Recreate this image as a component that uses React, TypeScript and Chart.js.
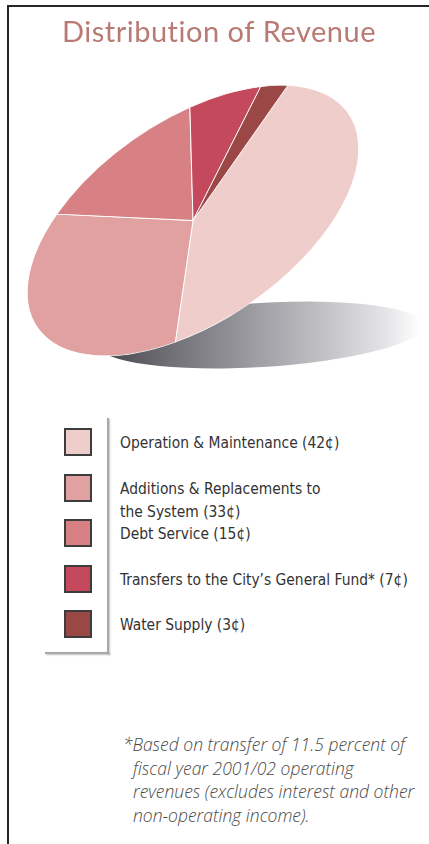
import React, { useEffect, useRef } from "react";
import { Chart, registerables } from "chart.js";

Chart.register(...registerables);

const TITLE = "Distribution of Revenue";
const CATEGORIES = [
  "Operation & Maintenance",
  "Additions & Replacements to\nthe System",
  "Debt Service",
  "Transfers to the City\u2019s General Fund*",
  "Water Supply",
];
const VALUES = [42, 33, 15, 7, 3];
const COLORS = ["#efcdcb", "#e0a1a0", "#d78184", "#c5495c", "#9b4746"];
const FOOTNOTE_LINES = [
  "*Based on transfer of 11.5 percent of",
  "fiscal year 2001/02 operating",
  "revenues (excludes interest and other",
  "non-operating income).",
];

// ellipse geometry (layout)
const PIE_CX = 193;
const PIE_CY = 220.5;
const PIE_A = 189;
const PIE_B = 100.5;
const PIE_TILT = 34.5;

const ellipsePlugin = {
  id: "ellipsePie",
  beforeDraw(chart: any) {
    (chart.ctx as any).letterSpacing = "0.5px";
  },
  beforeDatasetsDraw(chart: any) {
    const ctx = chart.ctx as CanvasRenderingContext2D;
    (ctx as any).letterSpacing = "0px";
    const arc = chart.getDatasetMeta(0).data[0] as any;
    if (!arc) return;
    // shadow
    ctx.save();
    const g = ctx.createLinearGradient(95, 0, 420, 0);
    g.addColorStop(0, "#45454b");
    g.addColorStop(0.3, "#7c7c82");
    g.addColorStop(0.65, "#b8b8bd");
    g.addColorStop(0.9, "#e6e6e8");
    g.addColorStop(1, "#ffffff");
    ctx.fillStyle = g;
    ctx.beginPath();
    ctx.ellipse(261, 335, 163, 32, (-3.5 * Math.PI) / 180, 0, Math.PI * 2);
    ctx.fill();
    ctx.restore();

    const { x, y, outerRadius } = arc;
    ctx.save();
    ctx.translate(PIE_CX, PIE_CY);
    ctx.rotate((-PIE_TILT * Math.PI) / 180);
    ctx.scale(PIE_A / outerRadius, PIE_B / outerRadius);
    ctx.translate(-x, -y);
  },
  afterDatasetsDraw(chart: any) {
    chart.ctx.restore();
  },
};

export default function App() {
  const ref = useRef<HTMLCanvasElement | null>(null);
  useEffect(() => {
    const chart = new Chart(ref.current as HTMLCanvasElement, {
      type: "pie",
      data: {
        labels: CATEGORIES,
        datasets: [
          {
            data: VALUES,
            backgroundColor: COLORS,
            borderColor: "#ffffff",
            borderWidth: 1,
          },
        ],
      },
      options: {
        responsive: false,
        animation: false,
        devicePixelRatio: 1,
        rotation: 55,
        layout: { padding: { left: 9 } },
        plugins: {
          legend: { display: false },
          tooltip: { enabled: false },
          title: {
            display: true,
            text: TITLE,
            color: "#b97a73",
            font: { family: "Lato, 'Open Sans', sans-serif", size: 29, weight: "normal" },
            padding: { top: 15, bottom: 10 },
          },
        },
      },
      plugins: [ellipsePlugin],
    });
    return () => {
      chart.destroy();
    };
  }, []);

  return (
    <div style={{ position: "absolute", left: 0, top: 0, width: 429, height: 844, background: "#fff", overflow: "hidden" }}>
      <div
        style={{
          position: "absolute",
          left: 7,
          top: 5,
          width: 430,
          height: 850,
          borderTop: "2px solid #262626",
          borderLeft: "2px solid #262626",
        }}
      />
      <canvas ref={ref} width={429} height={400} style={{ position: "absolute", left: 0, top: 0 }} />
      {/* legend shadow frame */}
      <div style={{ position: "absolute", left: 107, top: 418, width: 2, height: 236, background: "#a8a8a8", boxShadow: "1px 1px 2px rgba(0,0,0,0.25)" }} />
      <div style={{ position: "absolute", left: 45, top: 652, width: 64, height: 2, background: "#a8a8a8", boxShadow: "1px 1px 2px rgba(0,0,0,0.25)" }} />
      <div style={{ position: "absolute", left: 64, top: 428 }}>
        {CATEGORIES.map((c, i) => (
          <div key={i} style={{ display: "flex", alignItems: "flex-start", height: 45.5 }}>
            <div
              style={{
                width: 24,
                height: 24,
                background: COLORS[i],
                border: "2px solid #3d3d3d",
                flex: "none",
              }}
            />
            <div
              style={{
                marginLeft: 28,
                marginTop: 4,
                lineHeight: "23px",
                fontFamily: "'DejaVu Sans Condensed', 'DejaVu Sans', sans-serif",
                fontStretch: "condensed",
                fontSize: 15.4,
                color: "#333",
                whiteSpace: "pre",
              }}
            >
              {`${c} (${VALUES[i]}\u00a2)`}
            </div>
          </div>
        ))}
      </div>
      <div
        style={{
          position: "absolute",
          left: 133,
          top: 733,
          fontFamily: "'Open Sans', Lato, sans-serif",
          fontStyle: "italic",
          fontWeight: 300,
          fontSize: 17.5,
          lineHeight: "23.5px",
          color: "#4a4a4a",
        }}
      >
        {FOOTNOTE_LINES.map((l, i) => (
          <div key={i} style={{ textIndent: i === 0 ? -10 : 0, whiteSpace: "nowrap" }}>
            {l}
          </div>
        ))}
      </div>
    </div>
  );
}
